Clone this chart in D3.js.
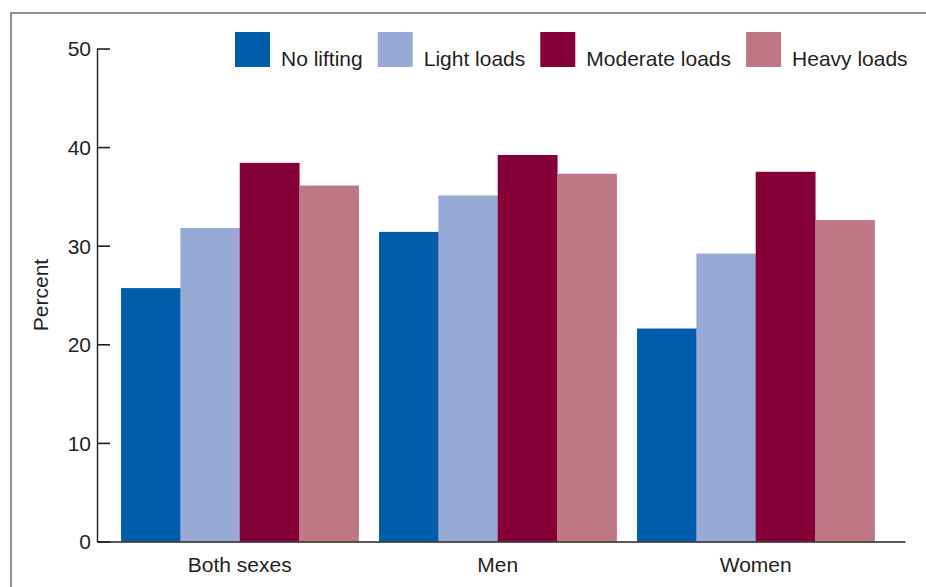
<!DOCTYPE html>
<html>
<head>
<meta charset="utf-8">
<script src="https://cdn.jsdelivr.net/npm/d3@7"></script>
<style>
  body { margin: 0; background: #fff; }
  svg { display: block; font-family: "Liberation Sans", Arial, Helvetica, sans-serif; }
</style>
</head>
<body>
<svg width="926" height="587"></svg>
<script>
// Data
const groups = ["Both sexes", "Men", "Women"];
const keys = ["No lifting", "Light loads", "Moderate loads", "Heavy loads"];
const noLifting = [25.7, 31.4, 21.6];
const lightLoads = [31.8, 35.1, 29.2];
const moderateLoads = [38.4, 39.2, 37.5];
const heavyLoads = [36.1, 37.3, 32.6];
const yTicks = [0, 10, 20, 30, 40, 50];
const colors = ["#005daa", "#97aad5", "#850037", "#be7784"];

const series = [noLifting, lightLoads, moderateLoads, heavyLoads];
const data = groups.map((g, i) => ({ group: g, values: keys.map((k, j) => ({ key: k, value: series[j][i] })) }));

const svg = d3.select("svg");
const ink = "#231f20";

// frame
svg.append("path")
    .attr("d", "M11,587 V13 H926")
    .attr("fill", "none")
    .attr("stroke", "#6b6b6b")
    .attr("stroke-width", 1.5);

const plotLeft = 97, plotRight = 905, plotTop = 48.5, plotBottom = 541.5;

// Scales
const x0 = d3.scaleBand()
    .domain(groups)
    .range([plotLeft, plotRight])
    .paddingInner(0.08)
    .paddingOuter(0.106)
    .align(0.44);

const x1 = d3.scaleBand()
    .domain(keys)
    .range([0, x0.bandwidth()]);

const y = d3.scaleLinear()
    .domain([0, 50])
    .range([plotBottom, plotTop]);

const color = d3.scaleOrdinal().domain(keys).range(colors);

// Bars
svg.append("g")
    .selectAll("g")
    .data(data)
    .join("g")
    .attr("transform", d => `translate(${x0(d.group)},0)`)
    .selectAll("rect")
    .data(d => d.values)
    .join("rect")
    .attr("x", d => x1(d.key))
    .attr("y", d => y(d.value))
    .attr("width", x1.bandwidth() + 0.5)
    .attr("height", d => y(0) - y(d.value))
    .attr("fill", d => color(d.key));

// Y axis (ticks point inward)
const yAxis = svg.append("g")
    .attr("transform", `translate(${plotLeft},0)`)
    .call(d3.axisRight(y).tickValues(yTicks).tickSize(13).tickSizeOuter(0));
yAxis.select(".domain").attr("stroke", ink).attr("stroke-width", 1.4);
yAxis.selectAll(".tick line").attr("stroke", ink).attr("stroke-width", 1.6);
yAxis.selectAll(".tick text")
    .attr("x", -6)
    .attr("dy", "0.35em")
    .attr("text-anchor", "end")
    .attr("fill", ink)
    .attr("font-size", 21)
    .attr("font-family", "Liberation Sans, Arial, sans-serif");

// X axis
const xAxis = svg.append("g")
    .attr("transform", `translate(0,${y(0)})`)
    .call(d3.axisBottom(x0).tickSize(0).tickSizeOuter(0));
xAxis.select(".domain").attr("stroke", ink).attr("stroke-width", 1.6);
xAxis.selectAll(".tick text")
    .attr("y", 30)
    .attr("dy", 0)
    .attr("fill", ink)
    .attr("font-size", 21)
    .attr("font-family", "Liberation Sans, Arial, sans-serif");

// Y axis title
svg.append("text")
    .attr("transform", "rotate(-90)")
    .attr("x", -295)
    .attr("y", 48)
    .attr("text-anchor", "middle")
    .attr("fill", ink)
    .attr("font-size", 21)
    .text("Percent");

// Legend
const legend = svg.append("g").attr("transform", "translate(235,32)");
let lx = 0;
keys.forEach((k, i) => {
    const item = legend.append("g").attr("transform", `translate(${lx},0)`);
    item.append("rect")
        .attr("width", 35)
        .attr("height", 35)
        .attr("fill", color(k));
    const t = item.append("text")
        .attr("x", 46)
        .attr("y", 34)
        .attr("fill", ink)
        .attr("font-size", 21)
        .text(k);
    lx += 46 + t.node().getComputedTextLength() + 15;
});
</script>
</body>
</html>
